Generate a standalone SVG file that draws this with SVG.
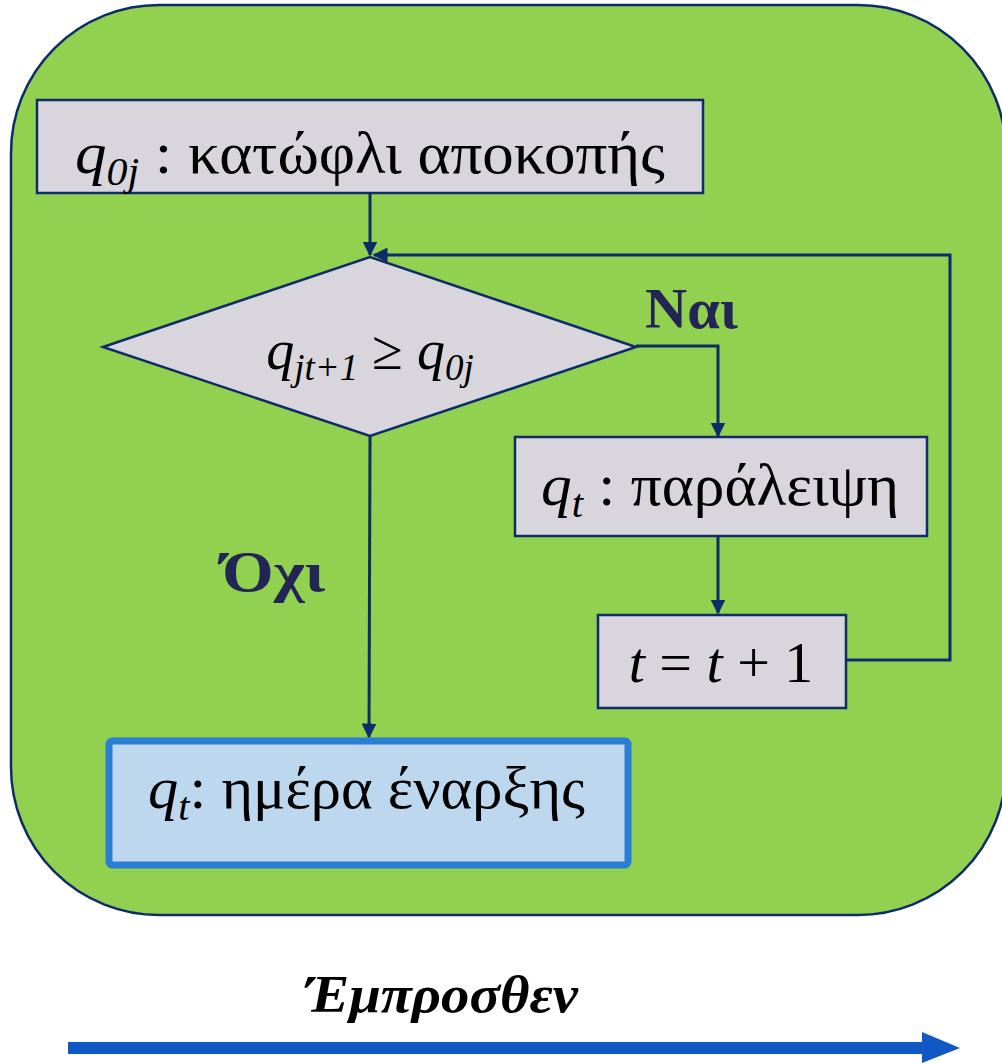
<svg xmlns="http://www.w3.org/2000/svg" width="1002" height="1063" viewBox="0 0 1002 1063">
<style>
.box{fill:#D9D5DC;stroke:#0E2D68;stroke-width:2.5}
.conn{fill:none;stroke:#0E2D68;stroke-width:3}
.t{font-family:"Liberation Serif","DejaVu Serif",serif;font-size:60px;fill:#000}
.m{font-style:italic}
.s{font-style:italic;font-size:40px}
.lbl{font-family:"Liberation Serif","DejaVu Serif",serif;font-size:56px;font-weight:bold;fill:#232654}
</style>
<defs>
<marker id="ah" viewBox="0 0 10 10" refX="9" refY="5" markerWidth="5" markerHeight="5" orient="auto" markerUnits="strokeWidth">
<path d="M0,0 L10,5 L0,10 z" fill="#0E2D68"/>
</marker>
</defs>
<rect id="background" x="11" y="5" width="995" height="910" rx="148" ry="148" fill="#92D050" stroke="#0E2D68" stroke-width="2.5"/>
<g id="connectors">
<path class="conn" d="M370,193 V255" marker-end="url(#ah)"/>
<path class="conn" d="M846,660 H950 V255 H374" marker-end="url(#ah)"/>
<path class="conn" d="M636,346 H718 V436" marker-end="url(#ah)"/>
<path class="conn" d="M718,536 V613" marker-end="url(#ah)"/>
<path class="conn" d="M370,436 L369,737" marker-end="url(#ah)"/>
</g>
<g id="node-threshold">
<rect class="box" x="37" y="100" width="666" height="93"/>
<text class="t" x="75" y="173" textLength="590" lengthAdjust="spacingAndGlyphs"><tspan class="m">q</tspan><tspan class="s" dy="12">0j</tspan><tspan dy="-12"> : κατώφλι αποκοπής</tspan></text>
</g>
<g id="node-decision">
<polygon class="box" points="103,347 370,257 636,347 370,436"/>
<text class="t" x="370" y="369" text-anchor="middle" style="font-size:56px"><tspan class="m">q</tspan><tspan class="s" dy="11" style="font-size:37px">jt+1</tspan><tspan dy="-11"> ≥ </tspan><tspan class="m">q</tspan><tspan class="s" dy="11" style="font-size:37px">0j</tspan></text>
</g>
<g id="node-skip">
<rect class="box" x="515" y="437" width="412" height="99"/>
<text class="t" x="541" y="505" textLength="358" lengthAdjust="spacingAndGlyphs"><tspan class="m">q</tspan><tspan class="s" dy="12">t</tspan><tspan dy="-12"> : παράλειψη</tspan></text>
</g>
<g id="node-increment">
<rect class="box" x="598" y="615" width="248" height="93"/>
<text class="t" x="721" y="682" text-anchor="middle" style="font-size:58px"><tspan class="m">t</tspan> = <tspan class="m">t</tspan> + 1</text>
</g>
<g id="node-start">
<rect x="109" y="741" width="519" height="124" rx="3" fill="#BDD7EE" stroke="#2A7FD4" stroke-width="7"/>
<text class="t" x="148" y="808" textLength="437" lengthAdjust="spacingAndGlyphs"><tspan class="m">q</tspan><tspan class="s" dy="12">t</tspan><tspan dy="-12">: ημέρα έναρξης</tspan></text>
</g>
<text class="lbl" x="645" y="328" textLength="93" lengthAdjust="spacingAndGlyphs">Ναι</text>
<text class="lbl" x="222" y="591" textLength="103" lengthAdjust="spacingAndGlyphs">Όχι</text>
<g id="forward">
<text x="305" y="1012" textLength="273" lengthAdjust="spacingAndGlyphs" font-family="Liberation Serif, DejaVu Serif, serif" font-size="52" font-weight="bold" font-style="italic" fill="#000">Έμπροσθεν</text>
<rect x="68" y="1042" width="862" height="12" fill="#1058C4"/>
<polygon points="922,1032 960,1048 922,1063" fill="#1058C4"/>
</g>
</svg>
